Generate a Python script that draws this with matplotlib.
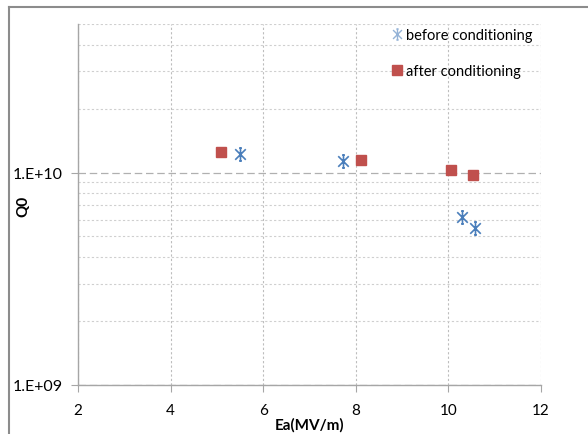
import matplotlib.pyplot as plt
from matplotlib.lines import Line2D
from matplotlib.path import Path
from matplotlib.transforms import IdentityTransform
from matplotlib.ticker import FixedLocator, FixedFormatter, NullFormatter

plt.rcParams['font.family'] = ['Lato', 'DejaVu Sans']

# Q0 vs accelerating gradient
ea_before = [5.5, 7.72, 10.29, 10.57]
q0_before = [1.22e10, 1.13e10, 6.2e9, 5.46e9]
ea_after = [5.09, 8.11, 10.06, 10.53]
q0_after = [1.25e10, 1.15e10, 1.03e10, 9.7e9]

x_ticks = [2, 4, 6, 8, 10, 12]
y_major = [1e9, 1e10]
y_major_labels = ["1.E+09", "1.E+10"]
y_minor = [k * 1e9 for k in range(2, 10)] + [k * 1e10 for k in range(2, 6)]

# Excel-like asterisk: X plus a vertical bar with tiny caps
star_verts = [(0, -1), (0, 1), (-0.8, -0.8), (0.8, 0.8), (-0.8, 0.8), (0.8, -0.8),
              (-0.2, 1), (0.2, 1), (-0.2, -1), (0.2, -1)]
star_codes = [Path.MOVETO, Path.LINETO] * 5
star = Path(star_verts, star_codes)

fig = plt.figure(figsize=(5.88, 4.35), dpi=100)
ax = fig.add_axes([78 / 588, 1 - 386 / 435, (541 - 78) / 588, (386 - 25) / 435])

ax.set_yscale("log")
ax.set_xlim(2, 12)
ax.set_ylim(1e9, 5e10)

# grid, Excel style
ax.yaxis.set_major_locator(FixedLocator(y_major))
ax.yaxis.set_major_formatter(FixedFormatter(y_major_labels))
ax.yaxis.set_minor_locator(FixedLocator(y_minor))
ax.yaxis.set_minor_formatter(NullFormatter())
ax.set_xticks(x_ticks)
ax.grid(True, which="major", axis="y", color="#b0b0b0", linestyle=(0, (6, 3)), linewidth=0.9)
ax.grid(True, which="minor", axis="y", color="#cfcfcf", linestyle=(0, (2, 2)), linewidth=0.8)
ax.grid(True, which="major", axis="x", color="#bdbdbd", linestyle=(0, (2, 2)), linewidth=0.8)

for s in ["top", "right"]:
    ax.spines[s].set_visible(False)
for s in ["left", "bottom"]:
    ax.spines[s].set_color("#a6a6a6")
    ax.spines[s].set_linewidth(1.0)
ax.tick_params(axis="x", which="major", length=5, color="#a6a6a6", labelsize=11, pad=8)
ax.tick_params(axis="y", which="major", length=5, color="#a6a6a6", labelsize=11.5, pad=6)
ax.tick_params(axis="y", which="minor", length=0)

ax.plot(ea_before, q0_before, linestyle="none", marker=star, markersize=9.5,
        markeredgewidth=1.2, color="#4a7ebb", zorder=3)
ax.plot(ea_after, q0_after, linestyle="none", marker="s", markersize=7.5,
        color="#c0504d", markeredgecolor="#c0504d", zorder=3)

ax.set_xlabel("Ea(MV/m)", fontsize=11, fontweight="bold", labelpad=0)
ax.set_ylabel("Q0", fontsize=11, fontweight="bold")
ax.yaxis.set_label_coords((30 - 78) / 463, (386 - 206) / 361)

handles = [
    Line2D([], [], linestyle="none", marker=star, markersize=8, markeredgewidth=1.0,
           color="#95b3d7"),
    Line2D([], [], linestyle="none", marker="s", markersize=7, color="#c0504d"),
]
ax.legend(handles, ["before conditioning", "after conditioning"], loc="upper right",
          frameon=False, fontsize=10.5, handlelength=0.7, handletextpad=0.3,
          labelspacing=1.5, borderaxespad=0.0, bbox_to_anchor=(0.995, 1.005))

# outer chart frame (cropped at right and bottom), in pixels from bottom-left
fig.add_artist(Line2D([9, 9], [0, 427], color="#8c8c8c", linewidth=1.5,
                      transform=IdentityTransform(), zorder=5))
fig.add_artist(Line2D([9, 588], [427, 427], color="#8c8c8c", linewidth=1.5,
                      transform=IdentityTransform(), zorder=5))

fig.savefig("out.png", dpi=100)
